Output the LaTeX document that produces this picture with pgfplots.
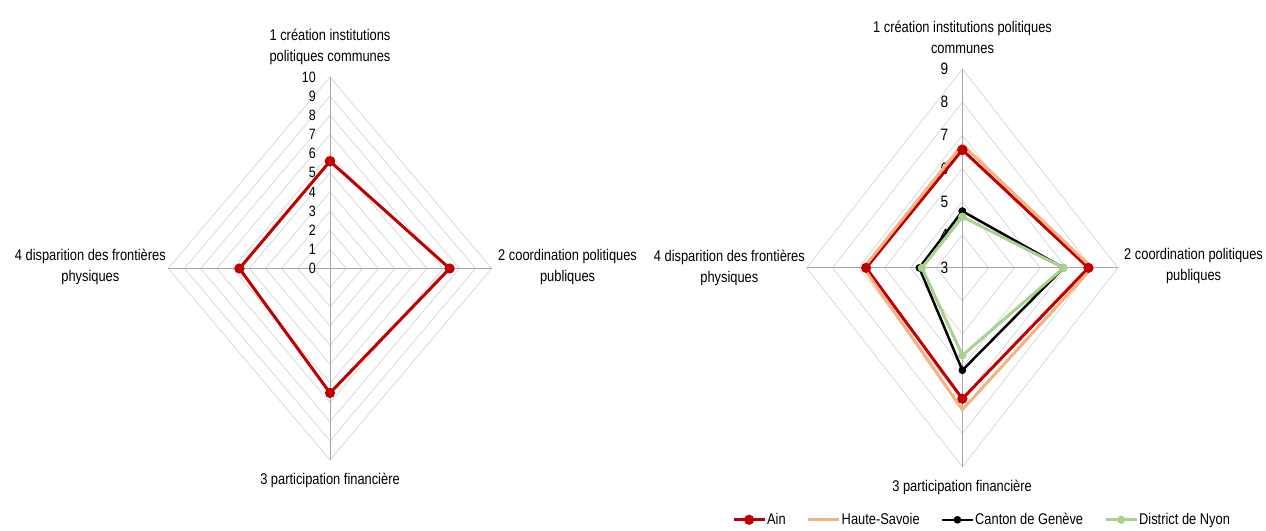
\documentclass[border=0pt]{standalone}
\usepackage{fontspec}
\setmainfont[FakeStretch=0.83]{Liberation Sans}
\usepackage{pgfplots}
\pgfplotsset{compat=1.18}
\usepackage{pgfplotstable}

\definecolor{ainred}{HTML}{C00000}
\definecolor{hsorange}{HTML}{F4B183}
\definecolor{nyongreen}{HTML}{A9D18E}
\definecolor{ringgray}{HTML}{D9D9D9}
\definecolor{spokegray}{HTML}{A6A6A6}

\newcommand{\lbl}{\fontsize{15.5pt}{21pt}\selectfont}

% angle (deg) and value on each radar axis; last row closes the polygon
\pgfplotstableread{
ang ain
90 5.6
0 7.4
-90 6.5
-180 5.6
-270 5.6
}\leftdata

\pgfplotstableread{
ang ain hs geneve nyon
90 6.56 6.72 4.71 4.54
0 7.86 8.0 6.9 6.9
-90 6.95 7.28 6.09 5.64
-180 6.71 6.81 4.66 4.56
-270 6.56 6.72 4.71 4.54
}\rightdata

\begin{document}
\begin{tikzpicture}[x=1pt,y=1pt]
\path[use as bounding box] (0,0) rectangle (1266,530);

% ---------------- left radar ----------------
\begin{axis}[at={(330pt,261.5pt)}, anchor=center, scale only axis,
  width=323.4pt, height=383pt,
  xmin=-10, xmax=10, ymin=-10, ymax=10,
  hide axis, clip=false]
\pgfplotsinvokeforeach{1,...,10}{
  \addplot[ringgray, line width=0.8pt, forget plot] coordinates {(0,#1)(#1,0)(0,-#1)(-#1,0)(0,#1)};
}
\addplot[spokegray, line width=0.8pt, forget plot] coordinates {(0,-10)(0,10)};
\addplot[spokegray, line width=0.8pt, forget plot] coordinates {(-10,0)(10,0)};
\pgfplotsinvokeforeach{0,...,10}{
  \node[anchor=east, inner sep=0pt, font=\fontsize{15pt}{16pt}\selectfont] at (axis cs:0,#1) [xshift=-14pt] {#1};
}
\addplot[ainred, line width=3pt, mark=*, mark size=3.5pt, forget plot]
  table[data cs=polar, x=ang, y=ain] {\leftdata};
\end{axis}

% ---------------- right radar ----------------
\begin{axis}[at={(962.35pt,262.15pt)}, anchor=center, scale only axis,
  width=311.3pt, height=397.7pt,
  xmin=-6, xmax=6, ymin=-6, ymax=6,
  hide axis, clip=false,
  legend columns=4,
  legend style={at={(-0.2396,-0.1335)}, anchor=west, draw=none, fill=none,
    inner sep=0pt, outer sep=0pt, font=\lbl,
    nodes={inner sep=1pt},
    /tikz/every even column/.append style={column sep=20pt}},
  legend cell align=left,
  legend image code/.code={\draw[mark repeat=2,mark phase=2,#1] plot coordinates {(0pt,0pt)(15.5pt,0pt)(31pt,0pt)};}
]
\pgfplotsinvokeforeach{1,...,6}{
  \addplot[ringgray, line width=0.8pt, forget plot] coordinates {(0,#1)(#1,0)(0,-#1)(-#1,0)(0,#1)};
}
\addplot[spokegray, line width=0.8pt, forget plot] coordinates {(0,-6)(0,6)};
\addplot[spokegray, line width=0.8pt, forget plot] coordinates {(-6,0)(6,0)};
\pgfplotsinvokeforeach{0,...,6}{
  \node[anchor=east, inner sep=0pt, font=\fontsize{16.5pt}{17pt}\selectfont] at (axis cs:0,#1) [xshift=-14pt] {\pgfmathparse{int(#1+3)}\pgfmathresult};
}
\addplot[ainred, line width=3pt, mark=*, mark size=3.5pt]
  table[data cs=polar, x=ang, y expr=\thisrow{ain}-3] {\rightdata};
\addlegendentry{Ain}
\addplot[hsorange, line width=3pt]
  table[data cs=polar, x=ang, y expr=\thisrow{hs}-3] {\rightdata};
\addlegendentry{Haute-Savoie}
\addplot[black, line width=2.5pt, mark=*, mark size=2.5pt]
  table[data cs=polar, x=ang, y expr=\thisrow{geneve}-3] {\rightdata};
\addlegendentry{Canton de Genève}
\addplot[nyongreen, line width=3pt, mark=*, mark size=2.5pt]
  table[data cs=polar, x=ang, y expr=\thisrow{nyon}-3] {\rightdata};
\addlegendentry{District de Nyon}
\end{axis}

% ---------------- category labels ----------------
\node[align=center, font=\lbl, inner sep=0pt] at (330,483) {1 création institutions\\politiques communes};
\node[align=center, font=\lbl, inner sep=0pt, anchor=west] at (498,263) {2 coordination politiques\\publiques};
\node[align=center, font=\lbl, inner sep=0pt] at (330,50) {3 participation financière};
\node[align=center, font=\lbl, inner sep=0pt, anchor=east] at (166,263) {4 disparition des frontières\\physiques};

\node[align=center, font=\lbl, inner sep=0pt] at (962.5,493) {1 création institutions politiques\\communes};
\node[align=center, font=\lbl, inner sep=0pt, anchor=west] at (1124,264) {2 coordination politiques\\publiques};
\node[align=center, font=\lbl, inner sep=0pt] at (962,43) {3 participation financière};
\node[align=center, font=\lbl, inner sep=0pt, anchor=east] at (805,262) {4 disparition des frontières\\physiques};
\end{tikzpicture}
\end{document}
